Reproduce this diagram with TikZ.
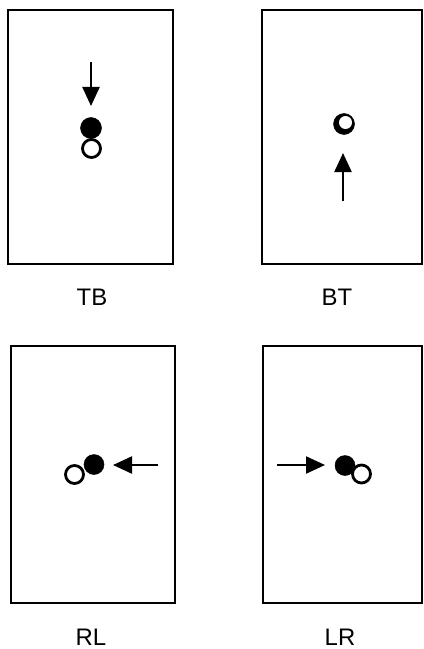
\documentclass[tikz,border=0pt]{standalone}
\usepackage{fontspec}
\setmainfont{Liberation Sans}
\usetikzlibrary{arrows.meta}
\begin{document}
\begin{tikzpicture}[x=1bp,y=-1bp,
  frame/.style={draw=black,line width=1.9bp},
  blackdot/.style={circle,fill=black,draw=black,line width=0.5bp,minimum size=21bp,inner sep=0pt},
  whitedot/.style={circle,fill=white,draw=black,line width=2.8bp,minimum size=18bp,inner sep=0pt},
  motion/.style={line width=2.3bp,-{Triangle[length=19bp,width=17bp]}},
  caption/.style={font=\fontsize{24}{28}\selectfont,inner sep=0pt}]
\useasboundingbox[fill=white] (0,0) rectangle (423,649);
% frames
\draw[frame] (8,10) rectangle (173,264);
\draw[frame] (262,10) rectangle (422,264);
\draw[frame] (11,346) rectangle (175,603);
\draw[frame] (263,346) rectangle (422,603);
% TB
\node[whitedot] (tbw) at (91.5,148.5) {};
\node[blackdot] (tbb) at (91,128) {};
\coordinate (tbs) at (91,62);
\coordinate (tbe) at (91,106);
\draw[motion] (tbs) -- (tbe);
\node[caption] (tb) at (92,297) {TB};
% BT
\node[blackdot] (btb) at (344,124) {};
\node[circle,fill=white,minimum size=13bp,inner sep=0pt] (btw) at (345.5,122.5) {};
\coordinate (bts) at (343,201);
\coordinate (bte) at (343,153);
\draw[motion] (bts) -- (bte);
\node[caption] (bt) at (337,297) {BT};
% RL
\node[whitedot] (rlw) at (74.5,474.5) {};
\node[blackdot,minimum size=20bp] (rlb) at (94,464.5) {};
\coordinate (rls) at (158,465);
\coordinate (rle) at (113,465);
\draw[motion] (rls) -- (rle);
\node[caption] (rl) at (91,637) {RL};
% LR
\node[whitedot] (lrw) at (361.5,474) {};
\node[blackdot,minimum size=20bp] (lrb) at (345,465.5) {};
\coordinate (lrs) at (277,465);
\coordinate (lre) at (325,465);
\draw[motion] (lrs) -- (lre);
\node[caption] (lr) at (340,637) {LR};
\end{tikzpicture}
\end{document}
